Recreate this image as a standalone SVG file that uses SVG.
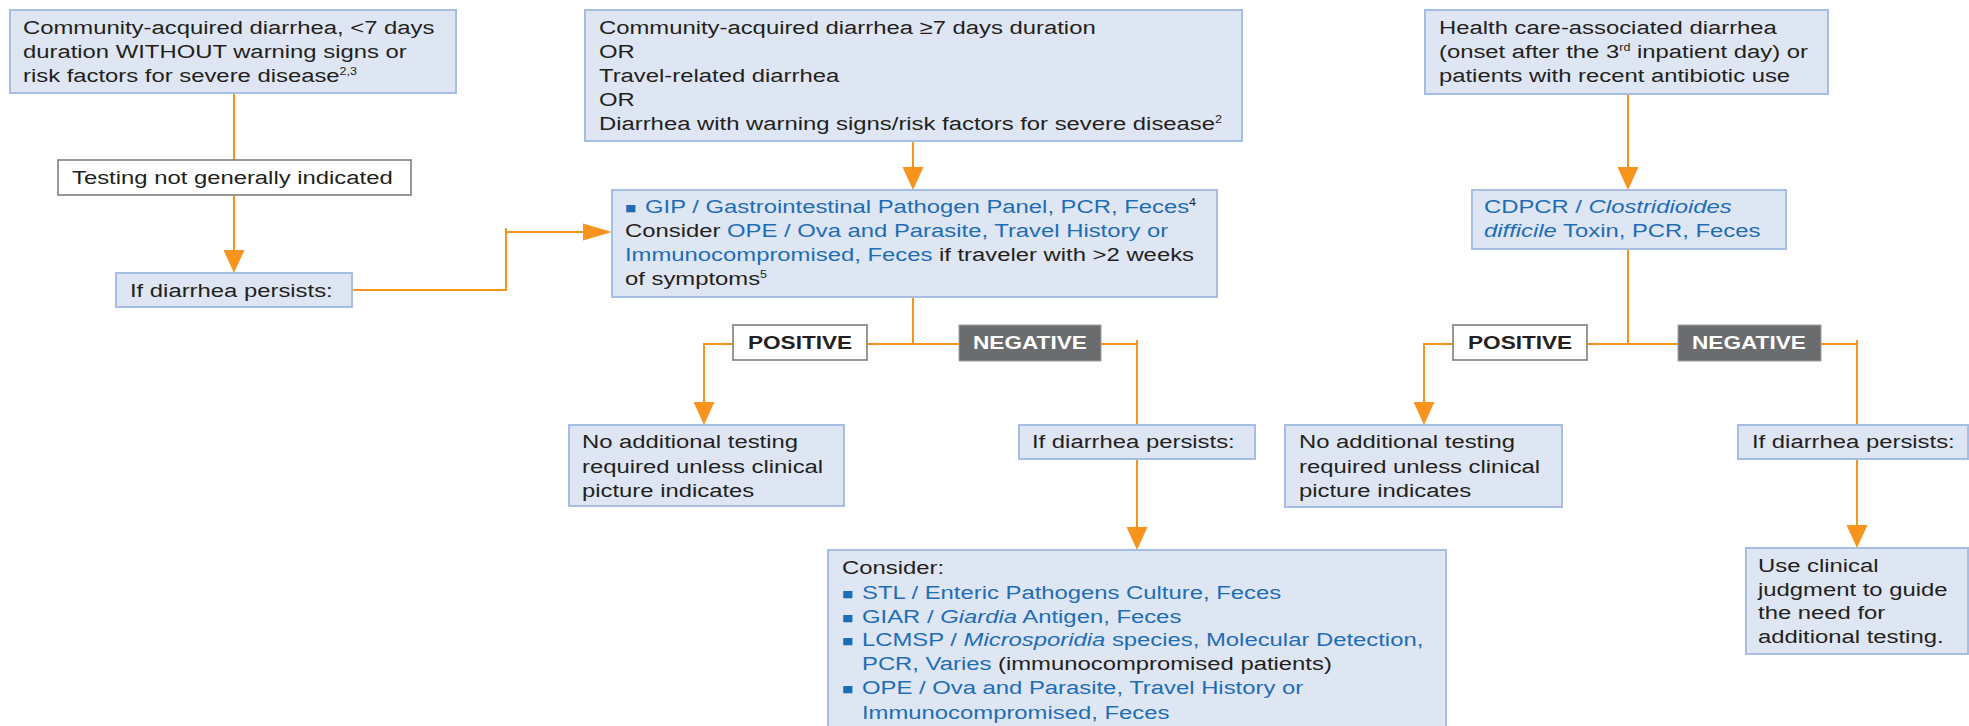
<svg xmlns="http://www.w3.org/2000/svg" width="1969" height="726" viewBox="0 0 1969 726">
<defs>
<style>
.box{fill:#dfe6f3;stroke:#a6bee4;stroke-width:2}
.wbox{fill:#ffffff;stroke:#7f7f7f;stroke-width:1.6}
.nbox{fill:#6b6c6e;stroke:#a0a0a0;stroke-width:1}
.t{font-family:"Liberation Sans",Arial,Helvetica,sans-serif;font-size:19px;fill:#231f20}
.b{fill:#1d6db6}
.i{font-style:italic}
.lbl{font-family:"Liberation Sans",Arial,Helvetica,sans-serif;font-size:18px;font-weight:bold;fill:#231f20}
.wt{fill:#ffffff}
.sup{font-size:10px}
.bul{font-size:15px;fill:#1d6db6}
.c{fill:none;stroke:#f7941d;stroke-width:2}
.ah{fill:#f7941d}
</style>
</defs>
<rect x="0" y="0" width="1969" height="726" fill="#ffffff"/>

<g id="connectors">
<path class="c" d="M234 93 V160"/>
<path class="c" d="M234 195 V251"/>
<polygon class="ah" points="223.5,250 244.5,250 234,273"/>
<path class="c" d="M352 290 H506 V228 M506 232 H585"/>
<polygon class="ah" points="583,223.5 583,240.5 612,232"/>
<path class="c" d="M913 141 V168"/>
<polygon class="ah" points="902.5,167 923.5,167 913,190"/>
<path class="c" d="M1628 94 V168"/>
<polygon class="ah" points="1617.5,167 1638.5,167 1628,190"/>
<path class="c" d="M913 297 V344"/>
<path class="c" d="M704 403 V344 H1137"/>
<path class="c" d="M1137 340 V425"/>
<polygon class="ah" points="693.5,402 714.5,402 704,425"/>
<path class="c" d="M1137 459 V528"/>
<polygon class="ah" points="1126.5,527 1147.5,527 1137,550"/>
<path class="c" d="M1628 249 V344"/>
<path class="c" d="M1424 403 V344 H1857"/>
<path class="c" d="M1857 340 V425"/>
<polygon class="ah" points="1413.5,402 1434.5,402 1424,425"/>
<path class="c" d="M1857 459 V526"/>
<polygon class="ah" points="1846.5,525 1867.5,525 1857,548"/>
</g>

<g id="n-community-short">
<rect class="box" x="10" y="10" width="446" height="83"/>
<g transform="scale(1.2557 1)">
<text class="t" x="18.32" y="34">Community-acquired diarrhea, &lt;7 days</text>
<text class="t" x="18.32" y="58">duration WITHOUT warning signs or</text>
<text class="t" x="18.32" y="82">risk factors for severe disease<tspan class="sup" dy="-7">2,3</tspan></text>
</g>
</g>

<g id="n-community-long">
<rect class="box" x="585" y="10" width="657" height="131"/>
<g transform="scale(1.2557 1)">
<text class="t" x="477.02" y="34">Community-acquired diarrhea ≥7 days duration</text>
<text class="t" x="477.02" y="58">OR</text>
<text class="t" x="477.02" y="82">Travel-related diarrhea</text>
<text class="t" x="477.02" y="106">OR</text>
<text class="t" x="477.02" y="130">Diarrhea with warning signs/risk factors for severe disease<tspan class="sup" dy="-7">2</tspan></text>
</g>
</g>

<g id="n-health-care">
<rect class="box" x="1425" y="10" width="403" height="84"/>
<g transform="scale(1.2557 1)">
<text class="t" x="1145.97" y="34">Health care-associated diarrhea</text>
<text class="t" x="1145.97" y="58">(onset after the 3<tspan class="sup" dy="-7">rd</tspan><tspan dy="7"> inpatient day) or</tspan></text>
<text class="t" x="1145.97" y="82">patients with recent antibiotic use</text>
</g>
</g>

<g id="n-testing-not-indicated">
<rect class="wbox" x="58" y="160" width="353" height="35"/>
<g transform="scale(1.2557 1)">
<text class="t" x="57.34" y="184">Testing not generally indicated</text>
</g>
</g>

<g id="n-persists-1">
<rect class="box" x="116" y="273" width="236" height="34"/>
<g transform="scale(1.2557 1)">
<text class="t" x="103.53" y="297">If diarrhea persists:</text>
</g>
</g>

<g id="n-gip">
<rect class="box" x="612" y="190" width="605" height="107"/>
<g transform="scale(1.2557 1)">
<text class="t" x="497.73" y="213"><tspan class="bul">■</tspan></text>
<text class="t" x="513.66" y="213"><tspan class="b">GIP / Gastrointestinal Pathogen Panel, PCR, Feces</tspan><tspan class="sup" dy="-7">4</tspan></text>
<text class="t" x="497.73" y="237">Consider <tspan class="b">OPE / Ova and Parasite, Travel History or</tspan></text>
<text class="t" x="497.73" y="261"><tspan class="b">Immunocompromised, Feces</tspan> if traveler with &gt;2 weeks</text>
<text class="t" x="497.73" y="285">of symptoms<tspan class="sup" dy="-7">5</tspan></text>
</g>
</g>

<g id="n-cdpcr">
<rect class="box" x="1472" y="190" width="314" height="59"/>
<g transform="scale(1.2557 1)">
<text class="t b" x="1181.81" y="213">CDPCR / <tspan class="i">Clostridioides</tspan></text>
<text class="t b" x="1181.81" y="237"><tspan class="i">difficile</tspan> Toxin, PCR, Feces</text>
</g>
</g>

<g id="n-positive-1">
<rect class="wbox" x="733" y="325" width="134" height="35"/>
<g transform="scale(1.2557 1)">
<text class="lbl" x="595.68" y="349">POSITIVE</text>
</g>
</g>

<g id="n-negative-1">
<rect class="nbox" x="959" y="325" width="142" height="36"/>
<g transform="scale(1.2557 1)">
<text class="lbl wt" x="774.87" y="349">NEGATIVE</text>
</g>
</g>

<g id="n-no-additional-1">
<rect class="box" x="569" y="425" width="275" height="81"/>
<g transform="scale(1.2557 1)">
<text class="t" x="463.49" y="448.5">No additional testing</text>
<text class="t" x="463.49" y="472.7">required unless clinical</text>
<text class="t" x="463.49" y="497">picture indicates</text>
</g>
</g>

<g id="n-persists-2">
<rect class="box" x="1019" y="425" width="236" height="34"/>
<g transform="scale(1.2557 1)">
<text class="t" x="821.85" y="448">If diarrhea persists:</text>
</g>
</g>

<g id="n-consider">
<rect class="box" x="828" y="550" width="618" height="182"/>
<g transform="scale(1.2557 1)">
<text class="t" x="670.54" y="574.5">Consider:</text>
<text class="t" x="670.54" y="598.7"><tspan class="bul">■</tspan></text>
<text class="t b" x="686.47" y="598.7">STL / Enteric Pathogens Culture, Feces</text>
<text class="t" x="670.54" y="622.8"><tspan class="bul">■</tspan></text>
<text class="t b" x="686.47" y="622.8">GIAR / <tspan class="i">Giardia</tspan> Antigen, Feces</text>
<text class="t" x="670.54" y="646.5"><tspan class="bul">■</tspan></text>
<text class="t b" x="686.47" y="646.5">LCMSP / <tspan class="i">Microsporidia</tspan> species, Molecular Detection,</text>
<text class="t" x="686.47" y="670.5"><tspan class="b">PCR, Varies</tspan> (immunocompromised patients)</text>
<text class="t" x="670.54" y="694.5"><tspan class="bul">■</tspan></text>
<text class="t b" x="686.47" y="694.5">OPE / Ova and Parasite, Travel History or</text>
<text class="t b" x="686.47" y="719">Immunocompromised, Feces</text>
</g>
</g>

<g id="n-positive-2">
<rect class="wbox" x="1453" y="325" width="134" height="35"/>
<g transform="scale(1.2557 1)">
<text class="lbl" x="1169.07" y="349">POSITIVE</text>
</g>
</g>

<g id="n-negative-2">
<rect class="nbox" x="1678" y="325" width="143" height="36"/>
<g transform="scale(1.2557 1)">
<text class="lbl wt" x="1347.46" y="349">NEGATIVE</text>
</g>
</g>

<g id="n-no-additional-2">
<rect class="box" x="1285" y="425" width="277" height="82"/>
<g transform="scale(1.2557 1)">
<text class="t" x="1034.48" y="448.5">No additional testing</text>
<text class="t" x="1034.48" y="472.7">required unless clinical</text>
<text class="t" x="1034.48" y="497">picture indicates</text>
</g>
</g>

<g id="n-persists-3">
<rect class="box" x="1738" y="425" width="230" height="34"/>
<g transform="scale(1.2557 1)">
<text class="t" x="1395.24" y="448">If diarrhea persists:</text>
</g>
</g>

<g id="n-clinical-judgment">
<rect class="box" x="1746" y="548" width="222" height="106"/>
<g transform="scale(1.2557 1)">
<text class="t" x="1400.02" y="572">Use clinical</text>
<text class="t" x="1400.02" y="596">judgment to guide</text>
<text class="t" x="1400.02" y="619.5">the need for</text>
<text class="t" x="1400.02" y="643">additional testing.</text>
</g>
</g>
</svg>
